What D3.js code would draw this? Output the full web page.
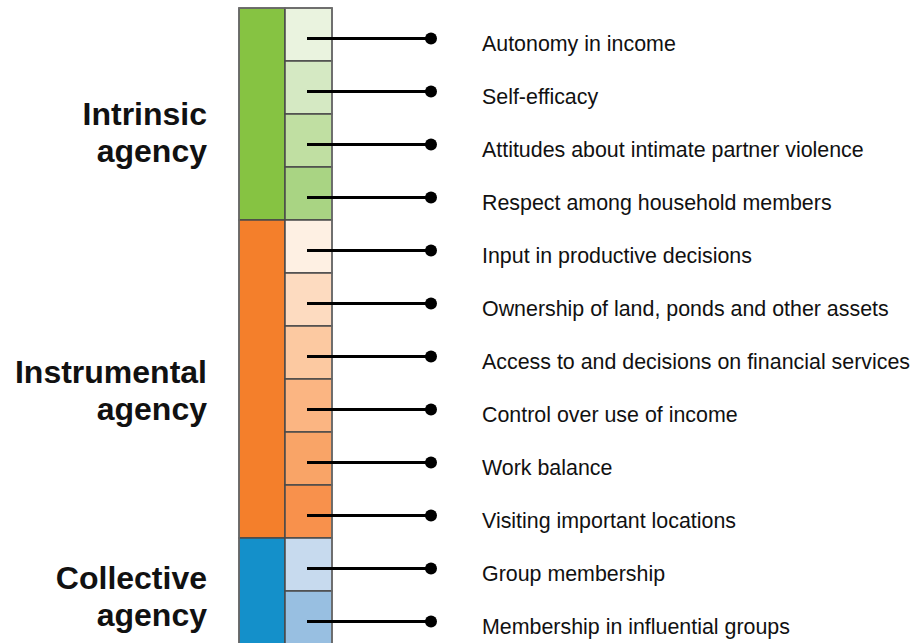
<!DOCTYPE html>
<html>
<head>
<meta charset="utf-8">
<script src="https://cdn.jsdelivr.net/npm/d3@7"></script>
<style>
  html, body { margin: 0; padding: 0; background: #fff; }
  svg { display: block; font-family: "Liberation Sans", Arial, sans-serif; }
</style>
</head>
<body>
<div id="chart"></div>
<script>
// groups of agency and the indicators that belong to each
const groups = ["Intrinsic agency", "Instrumental agency", "Collective agency"];
const groupLines = [["Intrinsic", "agency"], ["Instrumental", "agency"], ["Collective", "agency"]];
const groupColors = ["#86c342", "#f47f2b", "#1490ca"];

const indicators = [
  "Autonomy in income",
  "Self-efficacy",
  "Attitudes about intimate partner violence",
  "Respect among household members",
  "Input in productive decisions",
  "Ownership of land, ponds and other assets",
  "Access to and decisions on financial services",
  "Control over use of income",
  "Work balance",
  "Visiting important locations",
  "Group membership",
  "Membership in influential groups"
];
const indicatorGroup = [0, 0, 0, 0, 1, 1, 1, 1, 1, 1, 2, 2];
const indicatorColors = [
  "#eaf3df", "#d5e9c3", "#c0dfa2", "#a9d483",
  "#fef0e3", "#fddbc0", "#fcc9a1", "#fbb582", "#f9a467", "#f8914c",
  "#c7daee", "#98bfe1"
];

const width = 914, height = 643;

const svg = d3.select("#chart").append("svg")
  .attr("width", width)
  .attr("height", height);

// one band per indicator, running off the bottom like the original
const y = d3.scaleBand()
  .domain(indicators)
  .range([8, 8 + 53 * indicators.length]);

const colLeft = 239, colMid = 285, colRight = 332;

// big coloured group blocks
const groupSpan = groups.map((g, gi) => {
  const items = indicators.filter((d, i) => indicatorGroup[i] === gi);
  return { name: g, index: gi, y0: y(items[0]), y1: y(items[items.length - 1]) + y.bandwidth() };
});

svg.selectAll("rect.group")
  .data(groupSpan)
  .enter()
  .append("rect")
  .attr("class", "group")
  .attr("x", colLeft)
  .attr("y", d => d.y0)
  .attr("width", colMid - colLeft)
  .attr("height", d => d.y1 - d.y0)
  .attr("fill", d => groupColors[d.index])
  .attr("stroke", "#4a4a4a")
  .attr("stroke-width", 1.5);

// light cells for each indicator
svg.selectAll("rect.cell")
  .data(indicators)
  .enter()
  .append("rect")
  .attr("class", "cell")
  .attr("x", colMid)
  .attr("y", d => y(d))
  .attr("width", colRight - colMid)
  .attr("height", y.bandwidth())
  .attr("fill", (d, i) => indicatorColors[i])
  .attr("stroke", "#4a4a4a")
  .attr("stroke-width", 1.5);

// outer frame is a bit lighter grey
svg.append("rect")
  .attr("x", colLeft)
  .attr("y", y.range()[0])
  .attr("width", colRight - colLeft)
  .attr("height", y.range()[1] - y.range()[0])
  .attr("fill", "none")
  .attr("stroke", "#6e6e6e")
  .attr("stroke-width", 1.5);

// leader lines with a dot at the end
const lineY = d => y(d) + 30.5;

svg.selectAll("line.leader")
  .data(indicators)
  .enter()
  .append("line")
  .attr("class", "leader")
  .attr("x1", 307)
  .attr("x2", 431)
  .attr("y1", lineY)
  .attr("y2", lineY)
  .attr("stroke", "#000")
  .attr("stroke-width", 3);

svg.selectAll("circle.dot")
  .data(indicators)
  .enter()
  .append("circle")
  .attr("class", "dot")
  .attr("cx", 431)
  .attr("cy", lineY)
  .attr("r", 6)
  .attr("fill", "#000");

svg.selectAll("text.item")
  .data(indicators)
  .enter()
  .append("text")
  .attr("class", "item")
  .attr("x", 482)
  .attr("y", d => lineY(d) + 12.5)
  .attr("font-size", 21.4)
  .attr("fill", "#111")
  .text(d => d);

// group labels, nudged to where they sit in the picture
const labelNudge = [11, 3.5, -2];
const labels = svg.selectAll("text.group")
  .data(groupSpan)
  .enter()
  .append("text")
  .attr("class", "group")
  .attr("text-anchor", "end")
  .attr("font-size", 32)
  .attr("font-weight", "bold")
  .attr("fill", "#111");

labels.selectAll("tspan")
  .data(d => groupLines[d.index].map((t, k) => ({ t, k, d })))
  .enter()
  .append("tspan")
  .attr("x", 207)
  .attr("y", o => (o.d.y0 + o.d.y1) / 2 + labelNudge[o.d.index] + o.k * 37)
  .text(o => o.t);
</script>
</body>
</html>
